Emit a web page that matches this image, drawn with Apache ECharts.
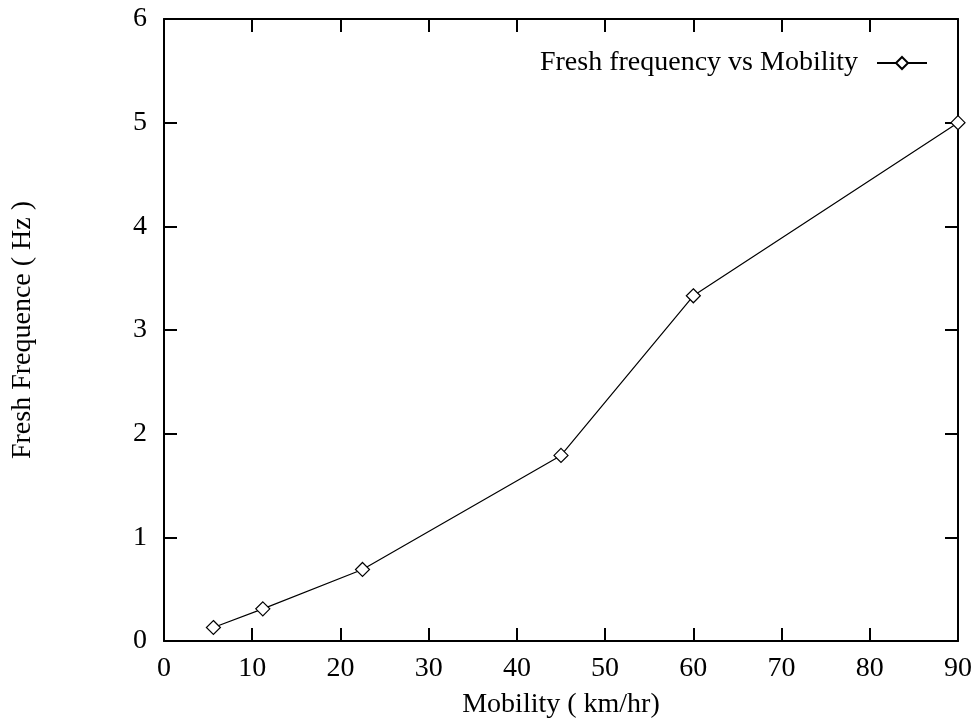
<!DOCTYPE html>
<html>
<head>
<meta charset="utf-8">
<script src="https://cdn.jsdelivr.net/npm/echarts@6/dist/echarts.min.js"></script>
<style>html,body{margin:0;padding:0;background:#fff}#c{width:979px;height:719px}</style>
</head>
<body>
<div id="c"></div>
<script>
const seriesName = 'Fresh frequency vs Mobility';
const mobility = [5.6, 11.2, 22.5, 45, 60, 90];
const freshFreq = [0.13, 0.31, 0.69, 1.79, 3.33, 5.0];
const xTicks = [0, 10, 20, 30, 40, 50, 60, 70, 80, 90];
const yTicks = [0, 1, 2, 3, 4, 5, 6];
const xName = 'Mobility ( km/hr)';
const yName = 'Fresh Frequence ( Hz )';

const font = 'Liberation Serif';
const chart = echarts.init(document.getElementById('c'), null, {renderer: 'canvas'});
const diamond = 'path://M0,-1L1,0L0,1L-1,0Z';
function axisCommon() {
  return {
    axisLine: {show: true, onZero: false, lineStyle: {color: '#000', width: 2}},
    axisTick: {show: true, inside: true, length: 13, lineStyle: {color: '#000', width: 2}},
    splitLine: {show: false}
  };
}
chart.setOption({
  animation: false,
  backgroundColor: '#fff',
  textStyle: {fontFamily: font},
  grid: {left: 164, right: 21, top: 19, bottom: 78, containLabel: false, outerBoundsMode: 'none'},
  legend: {
    right: 46, top: 44,
    itemWidth: 50, itemHeight: 15, itemGap: 0,
    align: 'right',
    textStyle: {fontFamily: font, fontSize: 28, color: '#000', padding: [0, 14, 0, 0]},
    data: [seriesName]
  },
  xAxis: [
    Object.assign({
      type: 'value', min: 0, max: 90, interval: 10, position: 'bottom',
      name: xName, nameLocation: 'middle', nameGap: 50,
      nameTextStyle: {fontFamily: font, fontSize: 28, color: '#000'},
      axisLabel: {fontFamily: font, fontSize: 28, color: '#000', margin: 14,
        formatter: v => xTicks.includes(v) ? String(v) : ''}
    }, axisCommon()),
    Object.assign({
      type: 'value', min: 0, max: 90, interval: 10, position: 'top',
      axisLabel: {show: false}
    }, axisCommon())
  ],
  yAxis: [
    Object.assign({
      type: 'value', min: 0, max: 6, interval: 1, position: 'left',
      name: yName, nameLocation: 'middle', nameGap: 127, nameRotate: 90,
      nameTextStyle: {fontFamily: font, fontSize: 28, color: '#000'},
      axisLabel: {fontFamily: font, fontSize: 28, color: '#000', margin: 17,
        formatter: v => yTicks.includes(v) ? String(v) : ''}
    }, axisCommon()),
    Object.assign({
      type: 'value', min: 0, max: 6, interval: 1, position: 'right',
      axisLabel: {show: false}
    }, axisCommon())
  ],
  series: [{
    name: seriesName,
    type: 'line',
    data: mobility.map((x, i) => [x, freshFreq[i]]),
    symbol: diamond,
    symbolSize: 14,
    showAllSymbol: true,
    lineStyle: {color: '#000', width: 1.2},
    itemStyle: {color: '#fff', borderColor: '#000', borderWidth: 1.2},
    color: '#000'
  }]
});
</script>
</body>
</html>
